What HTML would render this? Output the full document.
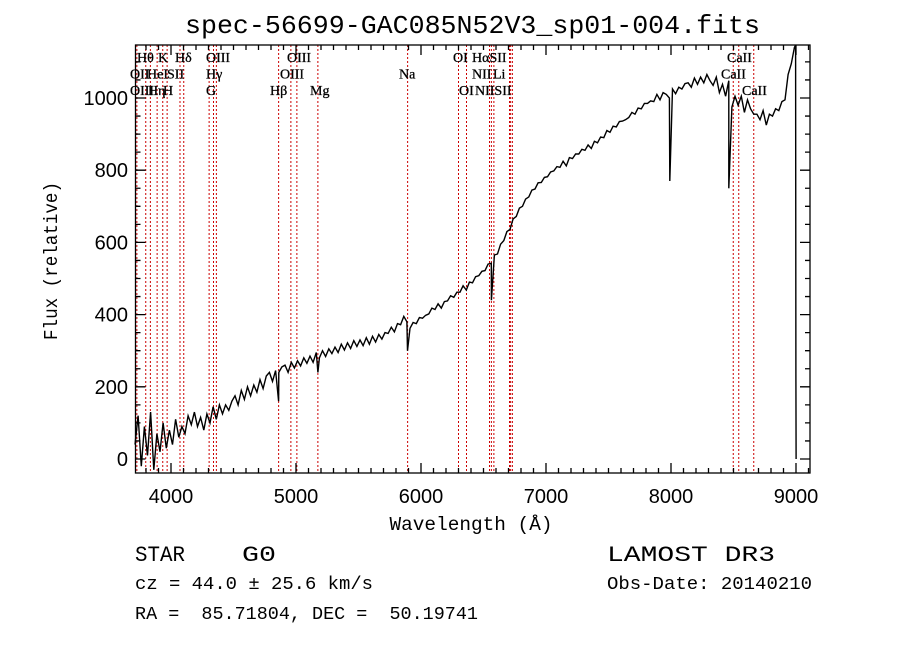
<!DOCTYPE html>
<html><head><meta charset="utf-8"><title>spec-56699-GAC085N52V3_sp01-004</title>
<style>html,body{margin:0;padding:0;background:#fff;}svg{display:block;}text{white-space:pre;}</style></head>
<body>
<svg id="chart" width="900" height="649" viewBox="0 0 900 649" xmlns="http://www.w3.org/2000/svg" font-family="'Liberation Mono', monospace" xml:space="preserve">
<rect width="900" height="649" fill="#fff"/>
<text x="185" y="33" font-size="26" textLength="575" lengthAdjust="spacingAndGlyphs">spec-56699-GAC085N52V3_sp01-004.fits</text>
<g id="lines"></g>
<g id="labels" font-family="'Liberation Serif', serif" font-size="14"></g>
<g id="spec"></g>
<g id="axes"></g>
<text transform="translate(57,261) rotate(-90)" text-anchor="middle" font-size="19" textLength="158" lengthAdjust="spacingAndGlyphs">Flux (relative)</text>
<text x="471" y="530" text-anchor="middle" font-size="19" textLength="163" lengthAdjust="spacingAndGlyphs">Wavelength (Å)</text>
<text x="135" y="561" font-size="22" textLength="50" lengthAdjust="spacingAndGlyphs">STAR</text>
<text x="242" y="561" font-size="22" textLength="34" lengthAdjust="spacingAndGlyphs">G0</text>
<text x="607" y="561" font-size="22" textLength="168" lengthAdjust="spacingAndGlyphs">LAMOST DR3</text>
<text x="135" y="589" font-size="18" textLength="238" lengthAdjust="spacingAndGlyphs">cz = 44.0 ± 25.6 km/s</text>
<text x="607" y="589" font-size="18" textLength="205" lengthAdjust="spacingAndGlyphs">Obs-Date: 20140210</text>
<text x="135" y="619" font-size="18" textLength="343" lengthAdjust="spacingAndGlyphs">RA =  85.71804, DEC =  50.19741</text>
</svg>
<script>
const fluxStart = 3712;
const fluxStep = 25;
const flux = [
40,120,-20,90,10,130,-30,70,
20,100,30,80,40,110,60,90,
70,120,95,130,90,115,80,125,
100,145,110,150,125,150,135,160,
175,150,190,165,200,175,205,185,
220,195,230,240,215,245,240,255,
260,240,268,252,272,258,280,265,
285,268,295,280,300,284,305,292,
310,295,318,302,322,306,328,312,
330,314,336,318,340,324,345,332,
350,348,365,352,375,372,395,380,
362,378,375,392,390,398,402,418,
414,430,418,436,438,452,448,462,
462,480,468,490,488,505,508,520,
522,540,542,565,568,595,605,630,
636,665,672,695,700,720,726,745,
748,765,766,780,782,795,798,810,
808,825,812,835,832,845,845,858,
855,870,860,880,876,892,890,910,
905,922,920,935,936,940,946,960,
955,972,970,985,985,992,990,1010,
995,1015,1010,1000,1025,1012,1030,1025,
1040,1042,1030,1055,1038,1058,1042,1065,
1048,1035,1058,1015,1038,1005,1048,975,
1005,980,1005,960,995,970,955,955,
940,965,925,955,950,970,965,990,
995,1065,1095,1140
];
const dipWave = [4861, 5175, 5892, 6563, 7990, 8462, 8997, 8999, 9001];
const dipFlux = [160, 240, 300, 440, 770, 750, 1160, 230, 0];
const lineWave = [3727,3798,3835,3889,3934,3969,4072,4102,4305,4340,4363,4861,4959,5007,5175,5893,6300,6364,6548,6563,6583,6708,6717,6731,8498,8542,8662];
const labelText = ["Hθ","K","Hδ","OIII","OIII","OI","HαSII","CaII",
 "OII","HeI","SII","Hγ","OIII","Na","NII","Li","CaII",
 "OIII","Hη","H","G","Hβ","Mg","OI","NIISII","CaII"];
const labelX = [137,158,175,206,287,453,472,727, 130,147,167,206,280,399,472,493,721, 130,148,163,206,270,310,459,475,742];
const labelRow = [0,0,0,0,0,0,0,0, 1,1,1,1,1,1,1,1,1, 2,2,2,2,2,2,2,2,2];
const xTicks = [4000,5000,6000,7000,8000,9000];
const yTicks = [0,200,400,600,800,1000];

const L=135.5,R=810,T=45,B=473;
const x = w => 171 + (w-4000)*0.125;
const y = f => 459 - f*0.361;
const NS="http://www.w3.org/2000/svg";
function mk(tag,parent){const e=document.createElementNS(NS,tag);parent.appendChild(e);return e;}

const lg=document.getElementById('lines');
lineWave.forEach(w=>{
  const l=mk('line',lg);
  
  
  l.setAttribute('x1',x(w));l.setAttribute('x2',x(w));l.setAttribute('y1',T);l.setAttribute('y2',B);
  l.setAttribute('stroke','#c00');l.setAttribute('stroke-width','1');l.setAttribute('stroke-dasharray','2,2');
});
const lb=document.getElementById('labels');
labelText.forEach((t,i)=>{
  const e=mk('text',lb);
  
  
  e.setAttribute('x',labelX[i]);e.setAttribute('y',62+labelRow[i]*16.5);
  e.setAttribute('stroke','#000');e.setAttribute('stroke-width','0.3');
  e.textContent=t;
});

const pts=[];
flux.forEach((f,i)=>pts.push([fluxStart+i*fluxStep,f]));
dipWave.forEach((w,i)=>pts.push([w,dipFlux[i]]));
pts.sort((a,b)=>a[0]-b[0]);
const sp=mk('path',document.getElementById('spec'));


sp.setAttribute('d',pts.map((p,i)=>(i?'L':'M')+x(p[0]).toFixed(1)+','+Math.max(T,Math.min(B,y(p[1]))).toFixed(1)).join(''));
sp.setAttribute('fill','none');sp.setAttribute('stroke','#000');sp.setAttribute('stroke-width','1.4');

const ax=document.getElementById('axes');
const fr=mk('rect',ax);


fr.setAttribute('x',L);fr.setAttribute('y',T);fr.setAttribute('width',R-L);fr.setAttribute('height',B-T);
fr.setAttribute('fill','none');fr.setAttribute('stroke','#000');fr.setAttribute('stroke-width','1.3');
let d='';
for(let w=3800;w<=9100;w+=100){const px=x(w);if(px<L||px>R)continue;const len=(w%1000===0)?10:5;d+=`M${px},${B}v${-len}M${px},${T}v${len}`;}
for(let f=0;f<=1100;f+=50){const py=y(f);if(py<T)continue;const len=(f%200===0)?10:5;d+=`M${L},${py}h${len}M${R},${py}h${-len}`;}
const tk=mk('path',ax);


tk.setAttribute('d',d);tk.setAttribute('stroke','#000');tk.setAttribute('stroke-width','1.3');
xTicks.forEach(w=>{
  const t=mk('text',ax);
  
  
  t.setAttribute('x',x(w));t.setAttribute('y',503);t.setAttribute('text-anchor','middle');
  t.setAttribute('font-family',"'Liberation Sans', sans-serif");t.setAttribute('font-size','20');
  t.textContent=w;
});
yTicks.forEach(f=>{
  const t=mk('text',ax);
  
  
  t.setAttribute('x',128);t.setAttribute('y',y(f)+7);t.setAttribute('text-anchor','end');
  t.setAttribute('font-family',"'Liberation Sans', sans-serif");t.setAttribute('font-size','20');
  t.textContent=f;
});
</script>
</body></html>
